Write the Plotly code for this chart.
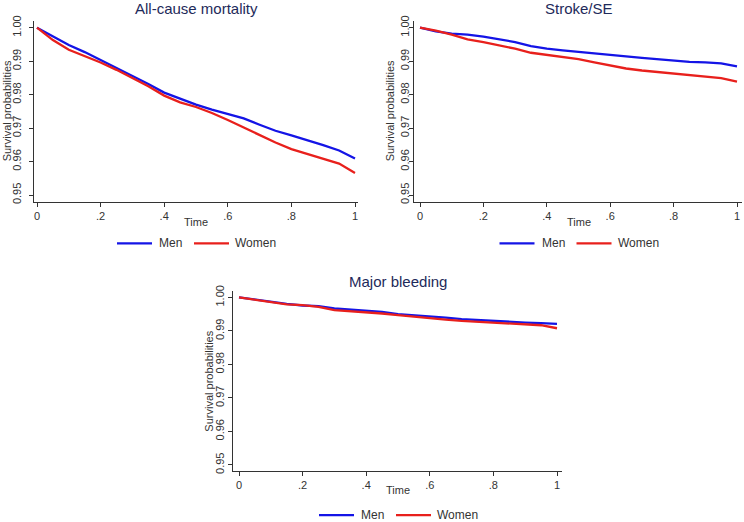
import plotly.graph_objects as go

# ---------------- data ----------------
time_grid = [0.00, 0.05, 0.10, 0.15, 0.20, 0.25, 0.30, 0.35, 0.40, 0.45, 0.50,
             0.55, 0.60, 0.65, 0.70, 0.75, 0.80, 0.85, 0.90, 0.95, 1.00]

mort_men = [1.0000, 0.9975, 0.9948, 0.9927, 0.9903, 0.9879, 0.9857, 0.9832, 0.9806, 0.9787, 0.9770,
            0.9755, 0.9741, 0.9729, 0.9710, 0.9692, 0.9678, 0.9664, 0.9649, 0.9633, 0.9609]
mort_women = [1.0000, 0.9963, 0.9934, 0.9915, 0.9896, 0.9874, 0.9850, 0.9825, 0.9797, 0.9777, 0.9763,
              0.9745, 0.9724, 0.9702, 0.9678, 0.9657, 0.9637, 0.9623, 0.9607, 0.9594, 0.9566]

stroke_men = [1.0000, 0.9989, 0.9982, 0.9979, 0.9973, 0.9965, 0.9957, 0.9945, 0.9937, 0.9932, 0.9927,
              0.9923, 0.9919, 0.9914, 0.9910, 0.9906, 0.9901, 0.9898, 0.9896, 0.9893, 0.9884]
stroke_women = [1.0000, 0.9991, 0.9979, 0.9965, 0.9957, 0.9948, 0.9937, 0.9925, 0.9919, 0.9914, 0.9906,
                0.9896, 0.9887, 0.9878, 0.9872, 0.9867, 0.9862, 0.9857, 0.9852, 0.9849, 0.9839]

bleed_men = [1.0000, 0.9993, 0.9986, 0.9981, 0.9976, 0.9974, 0.9967, 0.9964, 0.9962, 0.9957, 0.9950,
             0.9947, 0.9944, 0.9940, 0.9935, 0.9932, 0.9930, 0.9927, 0.9925, 0.9923, 0.9921]
bleed_women = [1.0000, 0.9993, 0.9985, 0.9979, 0.9977, 0.9972, 0.9962, 0.9959, 0.9957, 0.9952, 0.9947,
               0.9942, 0.9938, 0.9934, 0.9930, 0.9927, 0.9925, 0.9923, 0.9920, 0.9917, 0.9908]

panel_titles = ["All-cause mortality", "Stroke/SE", "Major bleeding"]
series_names = ["Men", "Women"]
x_tickvals = [0, 0.2, 0.4, 0.6, 0.8, 1]
x_ticktext = ["0", ".2", ".4", ".6", ".8", "1"]
y_tickvals = [0.95, 0.96, 0.97, 0.98, 0.99, 1.00]
y_ticktext = ["0.95", "0.96", "0.97", "0.98", "0.99", "1.00"]

# ---------------- styling ----------------
W, H = 744, 522
BLUE = "#1414e6"
RED = "#e8201c"
COLORS = [BLUE, RED]
TITLE_COL = "#1e2a5a"
TEXT_COL = "#333333"
FONT = "Liberation Sans, Arial, sans-serif"

# panel geometry in pixels
panels = [
    dict(left=34, right=358, top=16, bottom=200, x0=37, x1=355, y1px=23, y095px=193,
         standoff=4, ytitle_x=7, title_y=4, time_y=220, leg_y=242),
    dict(left=414, right=742, top=16, bottom=200, x0=420, x1=737, y1px=23, y095px=193,
         standoff=-4, ytitle_x=390, title_y=4, time_y=220, leg_y=242),
    dict(left=233, right=562, top=290, bottom=473, x0=239, x1=557, y1px=297, y095px=467,
         standoff=0, ytitle_x=209, title_y=281, time_y=493, leg_y=518),
]
# legend key layout relative to the panel centre (px): sample start/end, text start
legend_keys = [(-79, -44, -39), (-2, 33, 37)]
y_top_val, y_bot_val = 1.0, 0.95

data = [(mort_men, mort_women), (stroke_men, stroke_women), (bleed_men, bleed_women)]

fig = go.Figure()
annotations = []
shapes = []

for i, (p, (men, women)) in enumerate(zip(panels, data)):
    k = "" if i == 0 else str(i + 1)
    xa, ya = "x" + k, "y" + k
    ppu_x = (p["x1"] - p["x0"]) / 1.0
    xr = [0 - (p["x0"] - p["left"]) / ppu_x, 1 + (p["right"] - p["x1"]) / ppu_x]
    ppu_y = (p["y095px"] - p["y1px"]) / (y_top_val - y_bot_val)
    yr = [y_bot_val - (p["bottom"] - p["y095px"]) / ppu_y,
          y_top_val + (p["y1px"] - p["top"]) / ppu_y]

    for name, vals, col in zip(series_names, (men, women), COLORS):
        fig.add_trace(go.Scatter(
            x=time_grid, y=vals, mode="lines", name=name,
            line=dict(color=col, width=2.3),
            xaxis=xa, yaxis=ya, showlegend=False))

    dom_x = [p["left"] / W, p["right"] / W]
    dom_y = [1 - p["bottom"] / H, 1 - p["top"] / H]
    axis_common = dict(showgrid=False, zeroline=False, showline=True, linecolor=TEXT_COL,
                       linewidth=1, ticks="outside", ticklen=4, tickcolor=TEXT_COL,
                       tickfont=dict(family=FONT, size=11, color=TEXT_COL))
    fig.layout["xaxis" + k] = dict(domain=dom_x, range=xr, tickvals=x_tickvals,
                                   ticktext=x_ticktext, anchor=ya, **axis_common)
    fig.layout["yaxis" + k] = dict(domain=dom_y, range=yr, tickvals=y_tickvals,
                                   ticktext=y_ticktext, anchor=xa, tickangle=-90,
                                   ticklabelstandoff=p["standoff"], **axis_common)

    cx = (p["x0"] + p["x1"]) / 2
    annotations.append(dict(text=panel_titles[i], x=cx / W, y=1 - p["title_y"] / H, xref="paper",
                            yref="paper", xanchor="center", yanchor="middle", showarrow=False,
                            font=dict(family=FONT, size=15, color=TITLE_COL)))
    annotations.append(dict(text="Time", x=cx / W, y=1 - p["time_y"] / H, xref="paper",
                            yref="paper", xanchor="center", yanchor="middle", showarrow=False,
                            font=dict(family=FONT, size=11, color=TEXT_COL)))
    annotations.append(dict(text="Survival probabilities", x=p["ytitle_x"] / W,
                            y=1 - ((p["top"] + p["bottom"]) / 2) / H, xref="paper", yref="paper",
                            xanchor="center", yanchor="middle", showarrow=False, textangle=-90,
                            font=dict(family=FONT, size=11, color=TEXT_COL)))
    # legend keys (sample line + label) below each panel
    ly = 1 - p["leg_y"] / H
    for (s0, s1, t0), name, col in zip(legend_keys, series_names, COLORS):
        shapes.append(dict(type="line", xref="paper", yref="paper",
                           x0=(cx + s0) / W, x1=(cx + s1) / W, y0=ly, y1=ly,
                           line=dict(color=col, width=2.3)))
        annotations.append(dict(text=name, x=(cx + t0) / W, y=ly, xref="paper", yref="paper",
                                xanchor="left", yanchor="middle", showarrow=False,
                                font=dict(family=FONT, size=12, color=TEXT_COL)))

fig.update_layout(width=W, height=H, margin=dict(l=0, r=0, t=0, b=0),
                  plot_bgcolor="white", paper_bgcolor="white",
                  annotations=annotations, shapes=shapes, showlegend=False)

fig.write_html("out.html", config={"displayModeBar": False},
               post_script="document.body.style.margin='0';document.body.style.padding='0';")
